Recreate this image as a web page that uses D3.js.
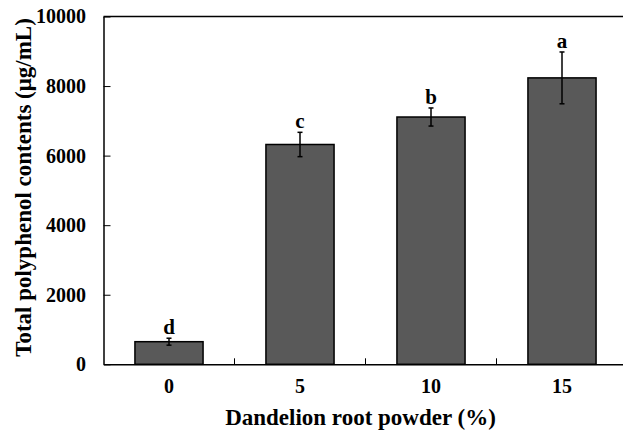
<!DOCTYPE html>
<html>
<head>
<meta charset="utf-8">
<script src="https://cdn.jsdelivr.net/npm/d3@7"></script>
<style>
body { margin: 0; background: #fff; }
svg { display: block; }
text { font-family: "Liberation Serif", "Times New Roman", serif; font-weight: bold; fill: #000; }
</style>
</head>
<body>
<div id="chart"></div>
<script>
const categories = ["0", "5", "10", "15"];
const values = [650, 6320, 7110, 8235];
const errors = [100, 350, 260, 745];
const letters = ["d", "c", "b", "a"];
const yTicks = [0, 2000, 4000, 6000, 8000, 10000];

const W = 623, H = 430;
const mLeft = 103.5, mRight = 627.5, mTop = 16.5, mBottom = 364.3;

const svg = d3.select("#chart").append("svg").attr("width", W).attr("height", H);

const x = d3.scaleBand().domain(categories).range([mLeft, mRight]).paddingInner(0.48).paddingOuter(0.24);
const y = d3.scaleLinear().domain([0, 10000]).range([mBottom, mTop]);
const step = x.step();

// bars
svg.selectAll("rect.bar").data(categories).join("rect")
  .attr("class", "bar")
  .attr("x", d => x(d))
  .attr("width", x.bandwidth())
  .attr("y", (d, i) => y(values[i]))
  .attr("height", (d, i) => y(0) - y(values[i]))
  .attr("fill", "#595959")
  .attr("stroke", "#000")
  .attr("stroke-width", 1.5);

// error bars
const eb = svg.append("g").attr("stroke", "#000").attr("stroke-width", 1.5);
categories.forEach((d, i) => {
  const cx = x(d) + x.bandwidth() / 2;
  const y1 = y(values[i] + errors[i]), y2 = y(values[i] - errors[i]);
  eb.append("line").attr("x1", cx).attr("x2", cx).attr("y1", y1).attr("y2", y2);
  eb.append("line").attr("x1", cx - 2.5).attr("x2", cx + 2.5).attr("y1", y1).attr("y2", y1);
  eb.append("line").attr("x1", cx - 2.5).attr("x2", cx + 2.5).attr("y1", y2).attr("y2", y2);
  svg.append("text").attr("x", cx).attr("y", y1 - 4)
    .attr("text-anchor", "middle").attr("font-size", 21).text(letters[i]);
});

// y axis
const yAxis = d3.axisLeft(y).tickValues(yTicks).tickSizeInner(-7).tickSizeOuter(0).tickPadding(17.5).tickFormat(d3.format("d"));
const gy = svg.append("g").attr("transform", `translate(${mLeft},0)`).call(yAxis);
gy.select(".domain").attr("stroke-width", 1.5);
gy.selectAll(".tick line").attr("stroke-width", 1);
gy.selectAll("text").attr("font-size", 20).attr("font-family", "Liberation Serif").attr("font-weight", "bold");

// top frame line
svg.append("line").attr("x1", mLeft).attr("x2", W).attr("y1", mTop).attr("y2", mTop)
  .attr("stroke", "#000").attr("stroke-width", 1.5);

// x axis
const xAxis = d3.axisBottom(x).tickSize(0).tickPadding(15);
const gx = svg.append("g").attr("transform", `translate(0,${mBottom})`).call(xAxis);
gx.select(".domain").attr("stroke-width", 1.5);
gx.selectAll("text").attr("font-size", 20).attr("font-family", "Liberation Serif").attr("font-weight", "bold");
// inward ticks at category boundaries
const bounds = categories.slice(1).map(d => x(d) - step * x.paddingInner() / 2);
svg.append("g").selectAll("line").data(bounds).join("line")
  .attr("x1", d => d).attr("x2", d => d)
  .attr("y1", mBottom).attr("y2", mBottom - 6)
  .attr("stroke", "#000").attr("stroke-width", 1);

// axis titles
svg.append("text").attr("x", (226 + 495) / 2).attr("y", 425)
  .attr("text-anchor", "middle").attr("font-size", 23)
  .text("Dandelion root powder (%)");
svg.append("text").attr("transform", `translate(30.5,${(17 + 358) / 2}) rotate(-90)`)
  .attr("text-anchor", "middle").attr("font-size", 23)
  .text("Total polyphenol contents (μg/mL)");
</script>
</body>
</html>
